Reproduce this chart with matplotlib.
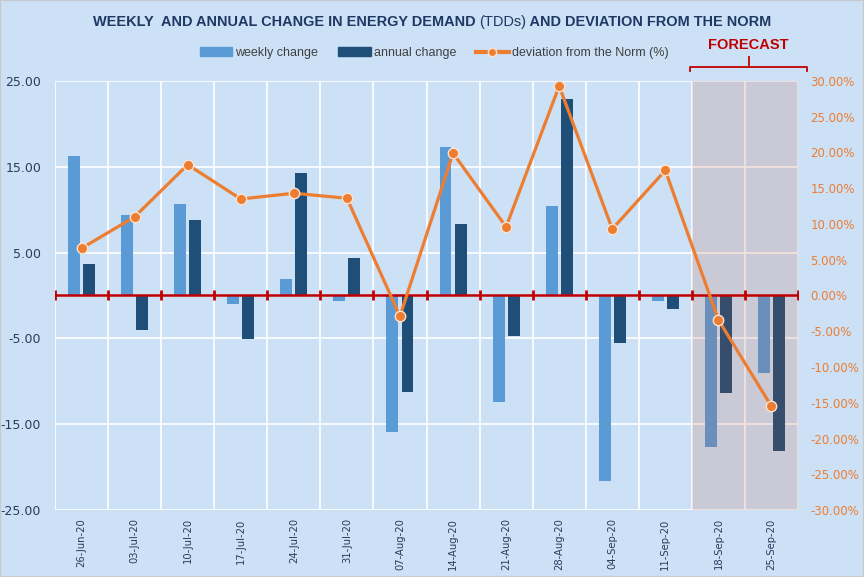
import numpy as np
import matplotlib
matplotlib.use("Agg")
import matplotlib.pyplot as plt
import matplotlib.transforms as mtransforms
from matplotlib.lines import Line2D
from matplotlib.patches import Patch

categories = ["26-Jun-20", "03-Jul-20", "10-Jul-20", "17-Jul-20", "24-Jul-20", "31-Jul-20",
              "07-Aug-20", "14-Aug-20", "21-Aug-20", "28-Aug-20", "04-Sep-20", "11-Sep-20",
              "18-Sep-20", "25-Sep-20"]
weekly_change = [16.3, 9.4, 10.7, -1.0, 1.9, -0.6, -15.9, 17.3, -12.4, 10.4, -21.6, -0.6, -17.6, -9.0]
annual_change = [3.7, -4.0, 8.8, -5.1, 14.3, 4.4, -11.3, 8.3, -4.7, 22.9, -5.5, -1.6, -11.4, -18.1]
deviation_pct = [6.6, 11.0, 18.3, 13.5, 14.3, 13.6, -2.9, 19.9, 9.6, 29.3, 9.3, 17.5, -3.4, -15.5]
forecast_count = 2
left_ticks = [25, 15, 5, -5, -15, -25]
right_ticks = list(range(-30, 35, 5))

BG = "#cce1f6"
C_WEEK = "#5b9bd5"
C_ANN = "#1f4e79"
C_LINE = "#ed7d31"
C_RED = "#c00000"
C_TITLE = "#1f3864"
C_TICK = "#2a3b5c"

fig = plt.figure(figsize=(8.64, 5.77), dpi=100, facecolor=BG)
ax = fig.add_axes([55/864, 1 - 510/577, (798-55)/864, (510-81)/577])
ax.set_facecolor(BG)

x = np.arange(len(categories))
w = 0.226
ax.bar(x - 0.142, weekly_change, width=w, color=C_WEEK, zorder=2)
ax.bar(x + 0.142, annual_change, width=w, color=C_ANN, zorder=2)

ax.set_xlim(-0.5, len(categories) - 0.5)
ax.set_ylim(-25, 25)
ax.set_yticks(left_ticks)
ax.set_yticklabels([f"{v:.2f}" for v in left_ticks], color=C_TICK, fontsize=9,
                   family="DejaVu Sans")
ax.tick_params(axis="y", length=0, pad=10)

bounds = np.arange(len(categories) + 1) - 0.5
ax.set_xticks(x)
ax.set_xticklabels(categories, rotation=90, fontsize=7.2, color=C_TICK, family="DejaVu Sans")
ax.tick_params(axis="x", length=0, pad=6)
for b in bounds:
    ax.axvline(b, color="white", lw=1.2, zorder=1)
for t in left_ticks:
    ax.axhline(t, color="white", lw=1.2, zorder=1)
for s in ax.spines.values():
    s.set_visible(False)

# forecast shading (semi-transparent overlay)
fc_start = len(categories) - forecast_count - 0.5
ax.axvspan(fc_start, len(categories) - 0.5, color="#bf4d25", alpha=0.15, lw=0, zorder=3)

# zero axis line with tick marks
ax.axhline(0, color=C_RED, lw=1.8, zorder=4)
ax.plot(bounds, np.zeros_like(bounds), linestyle="none", marker="|", markersize=6.5,
        markeredgewidth=2, color=C_RED, zorder=4)

# secondary axis
ax2 = ax.twinx()
ax2.set_ylim(-30, 30)
ax2.set_yticks(right_ticks)
ax2.set_yticklabels([f"{v:.2f}%" for v in right_ticks], color=C_LINE, fontsize=8.5,
                    family="DejaVu Sans")
ax2.tick_params(axis="y", length=0, pad=9)
for s in ax2.spines.values():
    s.set_visible(False)
ax2.plot(x, deviation_pct, color=C_LINE, lw=2.3, marker="o", markersize=7.5,
         markerfacecolor=C_LINE, markeredgecolor="#fbe3d3", markeredgewidth=1.0, zorder=5)

# forecast bracket
trans = mtransforms.blended_transform_factory(ax.transData, fig.transFigure)
bx0 = fc_start - 0.03
bx1 = len(categories) - 0.5 + 0.17
by = 1 - 66.7/577
ax.plot([bx0, bx0, bx1, bx1], [1 - 71/577, by, by, 1 - 71/577], color=C_RED, lw=1.3,
        transform=trans, clip_on=False)
bmid = (bx0 + bx1) / 2
ax.plot([bmid, bmid], [by, 1 - 57/577], color=C_RED, lw=1.3, transform=trans, clip_on=False)
fig.text(748/864, 1 - 45/577, "FORECAST", color=C_RED, fontsize=10.5, fontweight="bold",
         ha="center", va="center", family="Liberation Sans")

# title in mixed weights, fitted to the reference width
tfam = "Liberation Sans"
parts = [("WEEKLY  AND ANNUAL CHANGE IN ENERGY DEMAND ", "bold"),
         ("(TDDs)", "normal"),
         (" AND DEVIATION FROM THE NORM", "bold")]
ty = 1 - 22/577
target_w = 682.0
fs = 12.0
texts = [fig.text(0, ty, s, color=C_TITLE, fontsize=fs, fontweight=wt, va="center",
                  ha="left", family=tfam) for s, wt in parts]
r = fig.canvas.get_renderer()
for _ in range(2):
    for t in texts:
        t.set_fontsize(fs)
    widths = [t.get_window_extent(r).width for t in texts]
    fs = fs * target_w / sum(widths)
for t in texts:
    t.set_fontsize(fs)
widths = [t.get_window_extent(r).width for t in texts]
xstart = 432 - sum(widths) / 2
for t, wd in zip(texts, widths):
    t.set_position((xstart / 864, ty))
    xstart += wd

handles = [Patch(color=C_WEEK, label="weekly change"),
           Patch(color=C_ANN, label="annual change"),
           Line2D([0], [0], color=C_LINE, lw=3, marker="o", markersize=6,
                  markerfacecolor=C_LINE, markeredgecolor="#fbe3d3", label="deviation from the Norm (%)")]
leg = fig.legend(handles=handles, loc="center", bbox_to_anchor=(434/864, 1 - 53/577), ncol=3,
                 frameon=False, handlelength=2.6, handleheight=0.7,
                 columnspacing=1.6, handletextpad=0.25, prop={"family": "Liberation Sans", "size": 9})
for txt in leg.get_texts():
    txt.set_color("#404040")

fig.patches.append(plt.Rectangle((0, 0), 1, 1, transform=fig.transFigure, fill=False,
                                 edgecolor="#c8c8c8", lw=1.5))
fig.savefig("out.png", dpi=100, facecolor=BG)
